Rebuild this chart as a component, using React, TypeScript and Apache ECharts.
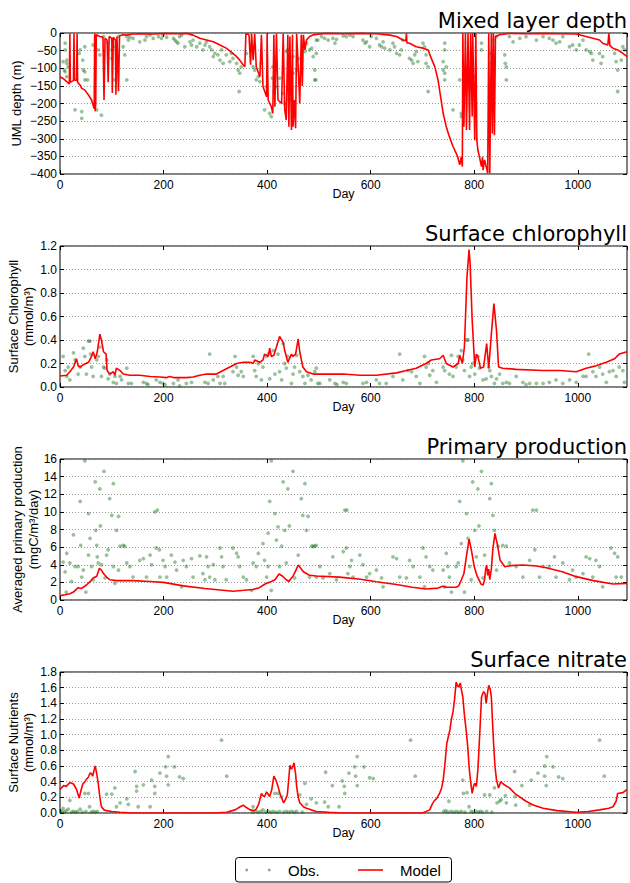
import React, { useEffect, useRef } from "react";
import * as echarts from "echarts";

// ---------------- DATA ----------------
const DAY_MIN = 0;
const DAY_MAX = 1095;
const DAY_STEP = 200;

const titles = ["Mixed layer depth", "Surface chlorophyll", "Primary production", "Surface nitrate"];
const yNames = [
  ["UML depth (m)"],
  ["Surface Chlorophyll", "(mmol/m³)"],
  ["Averaged primary production", "(mgC/m³/day)"],
  ["Surface Nutrients", "(mmol/m³)"],
];
const yMins = [-400, 0, 0, 0];
const yMaxs = [0, 1.2, 16, 1.8];
const ySteps = [50, 0.2, 2, 0.2];
const yDecimals = [0, 1, 0, 1];
const xName = "Day";
const legendNames = ["Obs.", "Model"];

// Mixed layer depth (m, negative downward)
const mldObs: number[][] = [
  [10,-29],[10,-48],[6,-81],[8,-105],[10,-110],[13,-124],[13,-77],[16,-96],[13,-86],[29,-218],[39,-48],[42,-223],[42,-242],
  [37,-58],[44,-77],[45,-105],[48,-110],[48,-133],[48,-39],[53,-133],[64,-34],[71,-218],[74,-48],[77,-62],[80,-233],[84,-10],
  [93,-29],[100,-48],[100,-72],[103,-39],[106,-133],[109,-58],[113,-10],[122,-39],[125,-62],[129,-133],[129,-10],[132,-20],
  [135,-12],[141,-15],[154,-25],[164,-20],[167,-10],[174,-6],[180,-15],[190,-10],[196,-15],[199,-6],[206,-12],[219,-15],
  [222,-20],[225,-25],[228,-29],[231,-10],[235,-6],[241,-39],[251,-25],[254,-34],[257,-20],[264,-39],[270,-29],[276,-48],
  [280,-34],[283,-25],[289,-39],[293,-48],[296,-67],[299,-58],[305,-62],[309,-77],[312,-48],[315,-86],[321,-62],[328,-81],
  [331,-58],[334,-72],[341,-86],[344,-105],[346,-166],[347,-114],[350,-96],[360,-58],[373,-96],[376,-105],[379,-133],
  [383,-124],[386,-138],[389,-86],[395,-218],[399,-152],[405,-228],[408,-237],[410,-128],[411,-96],[418,-152],[424,-128],
  [431,-171],[434,-200],[437,-53],[440,-48],[443,-190],[450,-114],[450,-67],[457,-105],[460,-72],[469,-39],[473,-53],
  [476,-29],[482,-48],[492,-105],[492,-133],[495,-58],[498,-20],
  [486,-43],[489,-67],[494,-133],[495,-20],[505,-10],[511,-15],[518,-20],[527,-15],[531,-29],[534,-18],[547,-8],[553,-10],
  [560,-6],[566,-10],[585,-20],[589,-29],[592,-25],[598,-39],[601,-10],[611,-15],[617,-34],[621,-39],[624,-25],[627,-43],
  [637,-48],[643,-29],[646,-39],[650,-58],[656,-62],[659,-48],[662,-20],[675,-72],[679,-77],[682,-86],[685,-62],[688,-53],
  [691,-81],[701,-29],[704,-39],[707,-62],[707,-86],[711,-96],[711,-166],[743,-29],[743,-48],[740,-81],[740,-105],[743,-114],
  [746,-96],[743,-133],[759,-218],[772,-133],[775,-228],[775,-237],[791,-152],[794,-96],[799,-124],[814,-29],[814,-48],
  [830,-58],[833,-86],[836,-20],[843,-10],[859,-62],[860,-86],[862,-133],[862,-96],[868,-10],[875,-25],[888,-15],[900,-10],
  [920,-20],[933,-10],[945,-15],[952,-20],[958,-29],[965,-25],[971,-10],[984,-39],[990,-34],[997,-48],[1003,-34],[1010,-20],
  [1016,-48],[1023,-53],[1026,-58],[1029,-77],[1042,-58],[1048,-67],[1045,-86],[1071,-58],[1074,-81],[1077,-105],
  [1077,-166],[1084,-77],[1087,-39],[1090,-48],
];
const mldModel: number[][] = [
  [0,-124],[6,-129],[13,-138],[17,-143],[18,-145],[19,-2],[20,-140],[22,-138],[26,-135],[27,-2],[28,-133],[32,-135],
  [33,-2],[34,-140],[39,-148],[42,-157],[48,-162],[55,-176],[61,-190],[64,-205],[66,-215],[67,-2],[68,-222],[69,-200],
  [70,-5],[74,-8],[77,-10],[83,-12],[85,-190],[87,-15],[91,-20],[93,-140],[95,-10],[100,-15],[101,-170],[103,-12],
  [107,-20],[108,-175],[110,-10],[113,-165],[115,-8],[122,-5],[129,-6],[140,-3],[154,-2],[180,-3],[206,-1],[230,-2],
  [244,-1],[257,-6],[270,-15],[283,-20],[296,-25],[309,-34],[321,-43],[334,-58],[341,-67],[347,-77],[354,-91],[357,-96],
  [359,-2],[365,-5],[368,-90],[370,-2],[373,-77],[376,-2],[379,-96],[386,-124],[389,-5],[392,-152],[399,-181],[400,-2],
  [402,-190],[408,-209],[411,-228],[413,-5],[415,-209],[418,-2],[421,-190],[428,-200],[431,-2],[434,-218],[437,-247],
  [440,-5],[442,-266],[444,-10],[447,-275],[449,-5],[450,-266],[453,-190],[455,-270],[457,-2],[460,-96],[463,-200],
  [466,-5],[468,-150],[470,-5],[473,-48],[476,-20],[482,-10],[490,-5],[514,-1],[547,-2],[580,-1],[611,-2],[637,-6],
  [650,-10],[662,-20],[668,-22],[669,-1],[670,-28],[675,-29],[688,-39],[701,-43],[711,-48],[717,-72],[724,-96],[730,-133],
  [736,-190],[740,-228],[746,-266],[752,-294],[759,-322],[765,-341],[768,-351],[772,-374],[775,-351],[777,-379],[778,-1],
  [780,-266],[783,-1],[785,-275],[788,-1],[791,-275],[793,-1],[796,-237],[797,-1],[801,-304],[803,-1],[805,-304],
  [807,-332],[810,-351],[814,-379],[816,-351],[817,-389],[820,-360],[823,-379],[826,-398],[828,-1],[830,-398],[833,-1],
  [835,-285],[837,-1],[839,-290],[841,-10],[849,-5],[868,-1],[900,-2],[933,-1],[965,-2],[997,-3],[1016,-10],[1029,-15],
  [1042,-20],[1048,-29],[1058,-34],[1060,-1],[1062,-36],[1068,-43],[1077,-48],[1087,-58],[1095,-67],
];

// Surface chlorophyll (mmol/m3)
const chlObs: number[][] = [
  [6,0.26],[10,0.14],[13,0.09],[16,0.17],[19,0.06],[26,0.29],[29,0.23],[35,0.11],[39,0.17],[45,0.33],[48,0.26],[51,0.11],
  [55,0.39],[58,0.39],[59,0.28],[61,0.17],[64,0.09],[71,0.23],[74,0.26],[77,0.34],[80,0.09],[84,0.17],[87,0.16],[90,0.23],
  [93,0.07],[96,0.11],[103,0.04],[106,0.09],[109,0.03],[116,0.09],[119,0.06],[129,0.16],[132,0.03],[138,0.03],[161,0.04],
  [167,0.03],[170,0.02],[186,0.06],[193,0.04],[199,0.03],[203,0.02],[219,0.03],[228,0.06],[231,0.01],[244,0.03],[254,0.04],
  [280,0.04],[286,0.03],[289,0.28],[296,0.06],[305,0.09],[309,0.03],[315,0.09],[318,0.03],[334,0.13],[338,0.26],[341,0.17],
  [344,0.10],[350,0.13],[354,0.09],[373,0.26],[376,0.14],[379,0.09],[383,0.20],[389,0.06],[392,0.17],[399,0.26],[402,0.28],
  [405,0.07],[412,0.31],[415,0.11],[421,0.28],[424,0.13],[428,0.06],[431,0.37],[434,0.20],[437,0.16],[440,0.26],[447,0.03],
  [450,0.11],[453,0.17],[457,0.27],[463,0.13],[469,0.09],[473,0.03],[479,0.10],[485,0.06],[492,0.13],[498,0.03],
  [495,0.16],[502,0.03],[521,0.06],[531,0.03],[535,0.02],[547,0.04],[553,0.03],[585,0.03],[592,0.04],[611,0.06],[617,0.03],
  [630,0.03],[643,0.09],[656,0.28],[662,0.06],[672,0.14],[679,0.13],[688,0.09],[695,0.03],[704,0.26],[707,0.17],[711,0.20],
  [714,0.10],[720,0.14],[727,0.04],[740,0.17],[743,0.14],[752,0.11],[756,0.27],[759,0.09],[765,0.17],[769,0.26],[775,0.31],
  [778,0.23],[781,0.14],[785,0.40],[788,0.40],[791,0.09],[794,0.17],[797,0.20],[801,0.11],[807,0.26],[810,0.16],[817,0.06],
  [823,0.07],[828,0.17],[830,0.14],[833,0.09],[839,0.03],[843,0.07],[849,0.11],[855,0.03],[862,0.04],[868,0.03],[881,0.09],
  [894,0.04],[900,0.02],[907,0.03],[920,0.03],[933,0.03],[945,0.04],[958,0.06],[971,0.03],[984,0.06],[997,0.04],[1010,0.09],
  [1016,0.09],[1021,0.28],[1029,0.13],[1035,0.09],[1042,0.17],[1048,0.11],[1055,0.04],[1061,0.13],[1068,0.14],[1074,0.09],
  [1080,0.17],[1087,0.14],[1090,0.04],
];
const chlModel: number[][] = [
  [0,0.094],[13,0.10],[19,0.13],[26,0.17],[32,0.24],[35,0.18],[39,0.17],[45,0.19],[55,0.21],[61,0.26],[64,0.30],[68,0.24],
  [72,0.30],[77,0.45],[80,0.40],[84,0.30],[89,0.28],[91,0.14],[96,0.11],[103,0.13],[106,0.10],[109,0.16],[116,0.14],
  [122,0.11],[135,0.10],[154,0.10],[174,0.09],[193,0.085],[206,0.08],[212,0.09],[219,0.08],[244,0.08],[257,0.085],[270,0.10],
  [283,0.11],[302,0.11],[315,0.14],[328,0.17],[341,0.20],[354,0.21],[367,0.21],[373,0.20],[376,0.23],[386,0.21],[392,0.23],
  [395,0.28],[402,0.26],[405,0.33],[408,0.26],[413,0.27],[418,0.34],[424,0.43],[431,0.38],[434,0.31],[440,0.21],[447,0.28],
  [450,0.26],[455,0.28],[460,0.41],[463,0.30],[469,0.17],[476,0.13],[489,0.11],[515,0.11],[547,0.11],[579,0.10],[611,0.10],
  [650,0.12],[669,0.14],[688,0.16],[707,0.20],[717,0.23],[733,0.24],[740,0.27],[746,0.20],[759,0.17],[769,0.20],[772,0.27],
  [777,0.20],[781,0.34],[786,0.94],[790,1.17],[792,1.05],[796,0.57],[801,0.17],[804,0.28],[807,0.26],[812,0.16],[818,0.17],
  [824,0.37],[828,0.16],[833,0.45],[838,0.71],[843,0.48],[847,0.17],[855,0.16],[881,0.15],[932,0.14],[965,0.14],[997,0.13],
  [1016,0.16],[1035,0.18],[1055,0.21],[1071,0.24],[1080,0.28],[1095,0.30],
];

// Primary production (mgC/m3/day)
const ppObs: number[][] = [
  [6,4.3],[10,3.2],[12,0.9],[13,5.3],[19,4.2],[22,2.1],[26,7.4],[29,3.8],[35,3.8],[39,11.2],[40,6.2],[42,2.6],[45,3.4],
  [48,15.8],[50,0.9],[55,9.8],[55,5.1],[58,7.0],[61,3.8],[64,2.3],[68,13.4],[69,7.9],[71,6.2],[72,4.9],[74,4.2],[77,12.6],
  [78,8.4],[80,4.0],[85,14.6],[87,2.5],[90,5.1],[93,5.7],[96,11.5],[100,9.6],[103,13.2],[103,3.8],[106,1.9],[109,7.9],
  [113,9.5],[113,3.4],[116,6.1],[122,6.2],[125,6.1],[129,4.2],[135,3.8],[141,2.6],[154,4.5],[161,4.7],[167,2.6],[174,5.1],
  [177,4.0],[183,10.0],[188,10.2],[186,5.9],[192,5.7],[193,2.6],[199,4.5],[203,3.8],[206,2.6],[215,5.1],[222,4.3],[225,3.4],
  [235,1.5],[238,4.5],[244,3.8],[254,4.7],[257,2.6],[270,5.0],[276,3.0],[280,2.3],[283,4.9],[286,3.8],[289,2.6],[296,4.0],
  [299,2.3],[309,5.9],[312,4.9],[315,3.8],[321,2.3],[334,5.9],[341,5.3],[344,4.9],[347,3.8],[354,2.6],[360,2.3],[370,1.1],
  [373,4.2],[379,3.8],[383,5.3],[392,6.4],[395,4.5],[399,2.6],[402,3.8],[408,1.1],[402,7.6],[405,11.2],[408,15.8],[415,9.8],
  [418,6.8],[421,8.3],[424,3.8],[428,6.1],[431,13.4],[434,7.9],[437,4.2],[440,12.6],[443,8.4],[450,14.6],[453,2.5],[460,5.1],
  [466,11.5],[469,9.6],[473,13.2],[476,7.9],[479,9.5],[482,2.6],[489,6.1],[495,6.2],
  [486,6.1],[492,6.1],[495,2.6],[502,3.8],[508,2.5],[521,3.0],[527,4.9],[534,2.3],[547,5.5],[550,10.2],[554,10.2],[553,5.9],
  [556,3.0],[560,3.8],[563,4.5],[566,2.6],[579,5.1],[585,4.0],[592,2.6],[598,3.0],[611,3.4],[621,2.5],[624,1.5],[643,4.9],
  [650,4.7],[656,2.6],[669,2.5],[675,4.5],[682,3.8],[695,2.6],[701,5.9],[704,1.5],[707,4.9],[714,3.8],[720,3.4],[740,3.4],
  [743,1.5],[746,5.3],[749,3.8],[752,2.6],[756,0.9],[765,3.8],[769,4.2],[772,11.2],[775,6.4],[778,15.8],[781,0.9],[785,9.8],
  [788,7.0],[791,3.8],[794,2.3],[797,13.4],[801,7.9],[804,4.9],[807,12.6],[809,8.4],[814,14.6],[817,2.5],[820,5.1],
  [830,11.5],[833,13.2],[836,9.6],[839,7.9],[843,3.4],[846,6.1],[855,6.2],[862,6.1],[868,4.2],[881,3.8],[894,2.6],[907,4.5],
  [913,10.2],[920,10.2],[917,5.7],[926,2.6],[933,3.8],[945,3.8],[955,4.9],[958,2.6],[971,4.2],[984,2.3],[990,3.4],[997,2.6],
  [1010,3.0],[1016,4.9],[1023,4.7],[1029,2.6],[1035,4.5],[1042,3.8],[1048,1.5],[1064,5.9],[1071,5.3],[1074,2.6],[1077,4.9],
  [1084,2.6],
];
const ppModel: number[][] = [
  [0,0.5],[10,0.6],[19,0.7],[26,0.9],[35,1.4],[41,1.3],[51,1.7],[60,2.2],[64,2.5],[71,2.7],[76,3.6],[80,3.4],[84,3.0],
  [90,2.6],[96,2.3],[109,2.2],[140,2.2],[174,2.1],[200,2.0],[238,1.6],[280,1.3],[334,1.0],[355,1.1],[373,1.2],[385,1.4],
  [393,1.7],[399,1.9],[404,2.0],[408,2.1],[415,2.3],[420,2.7],[423,2.95],[430,2.7],[437,2.3],[442,2.1],[447,2.5],[450,2.7],
  [455,3.3],[460,3.97],[465,3.6],[470,3.2],[476,3.0],[482,2.8],[495,2.72],[540,2.6],[580,2.35],[611,2.08],[650,1.75],
  [680,1.45],[707,1.25],[730,1.35],[739,1.55],[745,1.45],[765,1.44],[770,1.6],[775,2.27],[780,3.0],[785,5.0],[790,6.9],
  [795,5.5],[800,3.8],[805,2.8],[810,2.2],[813,1.8],[817,1.7],[820,2.3],[822,3.5],[824,3.97],[826,2.8],[828,3.5],[830,2.3],
  [833,3.5],[836,5.8],[840,7.56],[845,6.2],[850,4.5],[859,3.78],[870,3.9],[894,3.97],[920,3.85],[939,3.66],[970,3.2],
  [997,2.65],[1030,2.2],[1068,1.82],[1095,1.89],
];

// Surface nitrate (mmol/m3)
const no3Obs: number[][] = [
  [2,0.01],[4,0.02],[6,0.06],[9,0.01],[12,0.03],[16,0.05],[19,0.16],[22,0.01],[26,0.02],[30,0.01],[34,0.02],[39,0.05],
  [43,0.01],[48,0.25],[50,0.02],[55,0.25],[57,0.08],[60,0.01],[64,0.02],[68,0.01],[72,0.02],[90,0.24],[100,0.24],
  [106,0.32],[109,0.08],[116,0.13],[129,0.18],[132,0.11],[145,0.53],[148,0.28],[148,0.34],[151,0.08],[161,0.36],[174,0.08],
  [177,0.42],[183,0.34],[183,0.25],[193,0.51],[204,0.59],[206,0.47],[209,0.72],[209,0.36],[221,0.59],[231,0.46],[238,0.44],
  [312,0.93],[322,0.47],[372,0.01],[373,0.08],[378,0.02],[383,0.01],[388,0.02],[392,0.04],[397,0.01],[402,0.02],[407,0.01],
  [412,0.02],[415,0.25],[418,0.01],[421,0.25],[424,0.02],[428,0.21],[432,0.01],[437,0.02],[442,0.01],[447,0.02],[452,0.01],
  [457,0.02],[463,0.23],[468,0.01],[473,0.38],[476,0.11],[485,0.18],[495,0.13],
  [511,0.14],[513,0.52],[518,0.08],[526,0.35],[539,0.08],[545,0.41],[549,0.34],[550,0.25],[558,0.51],[569,0.59],[571,0.47],
  [574,0.72],[574,0.35],[587,0.59],[598,0.45],[605,0.44],[677,0.93],[686,0.47],[741,0.02],[745,0.03],[749,0.01],[751,0.15],
  [755,0.02],[760,0.01],[765,0.02],[770,0.01],[775,0.02],[778,0.42],[779,0.25],[782,0.01],[786,0.26],[790,0.08],[794,0.02],
  [798,0.01],[803,0.02],[808,0.01],[812,0.02],[816,0.01],[820,0.23],[824,0.02],[830,0.23],[834,0.01],[839,0.32],[844,0.13],
  [849,0.15],[852,0.17],[860,0.22],[862,0.13],[878,0.53],[879,0.21],[880,0.10],[892,0.35],[907,0.10],[910,0.42],[923,0.51],
  [936,0.60],[936,0.47],[940,0.72],[939,0.35],[952,0.59],[963,0.46],[971,0.44],[1042,0.93],[1051,0.47],
];
const no3Model: number[][] = [
  [0,0.30],[7,0.35],[12,0.34],[19,0.39],[26,0.37],[32,0.30],[37,0.19],[41,0.30],[44,0.37],[48,0.40],[51,0.43],[55,0.46],
  [58,0.51],[61,0.50],[63,0.47],[66,0.55],[68,0.60],[71,0.50],[74,0.37],[77,0.20],[80,0.08],[85,0.04],[90,0.03],[100,0.02],
  [116,0.01],[141,0.0],[200,0],[300,0],[322,0.01],[338,0.04],[348,0.08],[354,0.10],[360,0.07],[367,0.04],[375,0.03],
  [379,0.05],[384,0.12],[389,0.25],[392,0.22],[395,0.21],[399,0.27],[402,0.24],[405,0.21],[409,0.30],[413,0.47],[417,0.42],
  [421,0.34],[426,0.22],[432,0.13],[436,0.18],[439,0.23],[442,0.45],[444,0.61],[447,0.56],[449,0.58],[452,0.64],[455,0.50],
  [457,0.34],[460,0.20],[463,0.13],[470,0.08],[476,0.06],[485,0.04],[495,0.02],[520,0.01],[546,0],[700,0.0],[714,0.04],
  [718,0.10],[722,0.15],[728,0.19],[733,0.25],[737,0.32],[740,0.42],[743,0.60],[747,0.89],[753,1.06],[756,1.20],[759,1.29],
  [762,1.45],[765,1.67],[768,1.62],[770,1.61],[773,1.66],[775,1.58],[778,1.48],[781,1.25],[785,1.02],[788,0.80],[790,0.59],
  [793,0.40],[796,0.25],[799,0.35],[801,0.38],[804,0.34],[807,0.55],[809,0.80],[812,1.20],[814,1.48],[818,1.55],[821,1.52],
  [823,1.40],[826,1.55],[828,1.63],[831,1.58],[833,1.48],[835,1.20],[837,0.93],[840,0.60],[843,0.42],[847,0.32],[851,0.40],
  [858,0.36],[868,0.32],[880,0.24],[900,0.15],[915,0.10],[933,0.06],[960,0.03],[997,0.01],[1020,0.02],[1042,0.04],
  [1060,0.06],[1068,0.08],[1074,0.15],[1077,0.25],[1087,0.26],[1095,0.30],
];

const obsSets = [mldObs, chlObs, ppObs, no3Obs];
const modelSets = [mldModel, chlModel, ppModel, no3Model];

// ---------------- LAYOUT / STYLE ----------------
const W = 630;
const H = 883;
const PLOT_LEFT = 60;
const PLOT_RIGHT = 627;
const PLOT_H = 141;
const PLOT_TOPS = [33, 246, 459, 672];
const NAME_X = [[16.5], [13, 28.5], [17.5, 33], [13, 28.5]];
const OBS_COLOR = "rgba(0,100,0,0.5)";
const MODEL_COLOR = "#ff0000";
const TITLE_FONT = "DejaVu Sans";
const TICK_FONT = "Liberation Sans";
const LABEL_FONT = "Liberation Sans";

function fmt(dec: number) {
  return (v: number) => {
    const a = Math.abs(v);
    const s = a.toFixed(dec);
    return (v < -1e-9 ? "\u2212" : "") + s;
  };
}

function buildOption() {
  const grid: any[] = [];
  const xAxis: any[] = [];
  const yAxis: any[] = [];
  const series: any[] = [];
  const graphic: any[] = [];

  for (let i = 0; i < 4; i++) {
    const top = PLOT_TOPS[i];
    grid.push({
      left: PLOT_LEFT,
      width: PLOT_RIGHT - PLOT_LEFT,
      top,
      height: PLOT_H,
      show: true,
      borderColor: "#000",
      borderWidth: 1,
      backgroundColor: "#fff",
      containLabel: false,
    });
    const xBase = {
      gridIndex: i,
      type: "value",
      min: DAY_MIN,
      max: DAY_MAX,
      interval: DAY_STEP,
      axisLine: { show: false, onZero: false },
      axisTick: { show: true, inside: true, length: 4, lineStyle: { color: "#000", width: 1 } },
      splitLine: { show: false },
    };
    xAxis.push({
      ...xBase,
      position: "bottom",
      axisLabel: {
        show: true,
        margin: 5,
        color: "#000",
        fontSize: 12,
        fontFamily: TICK_FONT,
        showMaxLabel: false,
        formatter: (v: number) => String(v),
      },
    });
    xAxis.push({ ...xBase, position: "top", axisLabel: { show: false } });

    const yBase = {
      gridIndex: i,
      type: "value",
      min: yMins[i],
      max: yMaxs[i],
      interval: ySteps[i],
      axisLine: { show: false, onZero: false },
      axisTick: { show: true, inside: true, length: 4, lineStyle: { color: "#000", width: 1 } },
    };
    yAxis.push({
      ...yBase,
      position: "left",
      axisLabel: {
        show: true,
        margin: 3,
        color: "#000",
        fontSize: 12,
        fontFamily: TICK_FONT,
        formatter: fmt(yDecimals[i]),
      },
      splitLine: { show: true, lineStyle: { color: "#9a9a9a", type: [1, 2], width: 1 } },
    });
    yAxis.push({ ...yBase, position: "right", axisLabel: { show: false }, splitLine: { show: false } });

    series.push({
      name: legendNames[0],
      type: "scatter",
      xAxisIndex: 2 * i,
      yAxisIndex: 2 * i,
      data: obsSets[i],
      symbol: "circle",
      symbolSize: 3.8,
      itemStyle: { color: OBS_COLOR },
      silent: true,
      z: 2,
    });
    series.push({
      name: legendNames[1],
      type: "line",
      xAxisIndex: 2 * i,
      yAxisIndex: 2 * i,
      data: modelSets[i],
      symbol: "none",
      showSymbol: false,
      lineStyle: { color: MODEL_COLOR, width: 1.6 },
      silent: true,
      clip: true,
      z: 3,
    });

    // title
    graphic.push({
      type: "text",
      x: PLOT_RIGHT,
      y: top - 12.3,
      style: {
        text: titles[i],
        fill: "#000",
        font: `21px "${TITLE_FONT}"`,
        textAlign: "right",
        textVerticalAlign: "middle",
      },
    });
    // y names (rotated)
    const yc = top + PLOT_H / 2;
    yNames[i].forEach((nm, k) => {
      graphic.push({
        type: "text",
        x: NAME_X[i][k],
        y: yc,
        rotation: Math.PI / 2,
        style: {
          text: nm,
          fill: "#000",
          font: `13px "${LABEL_FONT}"`,
          textAlign: "center",
          textVerticalAlign: "middle",
        },
      });
    });
    // x name
    graphic.push({
      type: "text",
      x: (PLOT_LEFT + PLOT_RIGHT) / 2,
      y: top + PLOT_H + 19.5,
      style: {
        text: xName,
        fill: "#000",
        font: `12.5px "${LABEL_FONT}"`,
        textAlign: "center",
        textVerticalAlign: "middle",
      },
    });
  }

  // legend
  const ly = 870;
  graphic.push({
    type: "rect",
    shape: { x: 235.5, y: 857.5, width: 216, height: 24.5, r: 3 },
    style: { fill: "#fff", stroke: "#000", lineWidth: 1 },
    z: 10,
  });
  graphic.push({ type: "circle", shape: { cx: 246.7, cy: ly, r: 1.4 }, style: { fill: OBS_COLOR }, z: 11 });
  graphic.push({ type: "circle", shape: { cx: 269.3, cy: ly, r: 1.4 }, style: { fill: OBS_COLOR }, z: 11 });
  graphic.push({
    type: "text",
    x: 288,
    y: ly + 0.5,
    z: 11,
    style: { text: legendNames[0], fill: "#000", font: `15px "${LABEL_FONT}"`, textAlign: "left", textVerticalAlign: "middle" },
  });
  graphic.push({
    type: "line",
    shape: { x1: 358, y1: ly, x2: 383, y2: ly },
    style: { stroke: MODEL_COLOR, lineWidth: 1.6 },
    z: 11,
  });
  graphic.push({
    type: "text",
    x: 400,
    y: ly + 0.5,
    z: 11,
    style: { text: legendNames[1], fill: "#000", font: `15px "${LABEL_FONT}"`, textAlign: "left", textVerticalAlign: "middle" },
  });

  return {
    animation: false,
    backgroundColor: "#fff",
    grid,
    xAxis,
    yAxis,
    series,
    graphic,
  };
}

export default function App() {
  const ref = useRef<HTMLDivElement>(null);
  useEffect(() => {
    if (!ref.current) return;
    const chart = echarts.init(ref.current, undefined, { renderer: "svg", width: W, height: H });
    chart.setOption(buildOption() as any);
    return () => {
      chart.dispose();
    };
  }, []);
  return (
    <div
      ref={ref}
      style={{ position: "absolute", left: 0, top: 0, width: W, height: H, background: "#fff" }}
    />
  );
}
